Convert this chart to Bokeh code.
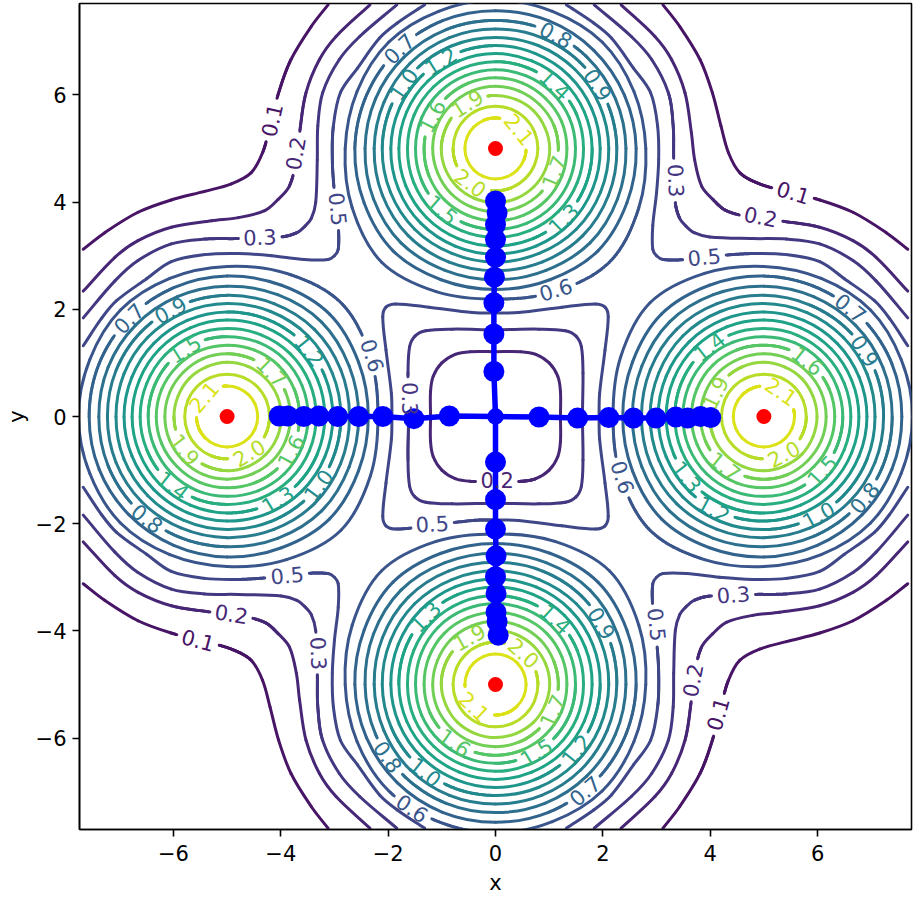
import math
from bokeh.core.properties import value
from bokeh.embed import file_html
from bokeh.models import ColumnDataSource, FixedTicker
from bokeh.palettes import Viridis256
from bokeh.plotting import figure
from bokeh.resources import INLINE

# Contour levels as printed on the chart, inner lobes last
LEVELS = ["0.1", "0.2", "0.3", "0.5", "0.6", "0.7", "0.8", "0.9", "1.0",
          "1.2", "1.3", "1.4", "1.5", "1.6", "1.7", "1.9", "2.0", "2.1"]

LOBES = {"top": (0.0, 5.0), "left": (-5.0, 0.0), "right": (5.0, 0.0), "bottom": (0.0, -5.0)}

# Ring radius, at 0, 22.5, ... 180 degrees from the direction to the plot centre
RING_060 = [2.81, 2.89, 3.00, 2.89, 2.80, 2.79, 2.81, 2.77, 2.77]
RING_070 = [2.63, 2.65, 2.70, 2.65, 2.62, 2.60, 2.59, 2.58, 2.57]
RING_080 = [2.45, 2.46, 2.49, 2.46, 2.43, 2.42, 2.41, 2.40, 2.39]
RING_090 = [2.28, 2.29, 2.30, 2.28, 2.26, 2.25, 2.25, 2.24, 2.23]
RING_100 = [2.12, 2.12, 2.13, 2.12, 2.11, 2.10, 2.09, 2.08, 2.07]
RING_120 = [1.97, 1.97, 1.97, 1.96, 1.95, 1.94, 1.93, 1.92, 1.92]
RING_130 = [1.82, 1.82, 1.82, 1.81, 1.80, 1.79, 1.78, 1.77, 1.77]
RING_140 = [1.66, 1.66, 1.66, 1.65, 1.64, 1.64, 1.63, 1.62, 1.62]
RING_150 = [1.51, 1.51, 1.51, 1.50, 1.49, 1.49, 1.48, 1.47, 1.47]
RING_160 = [1.35, 1.35, 1.35, 1.34, 1.33, 1.33, 1.32, 1.32, 1.32]
RING_170 = [1.18, 1.18, 1.18, 1.17, 1.17, 1.17, 1.16, 1.16, 1.16]
RING_190 = [1.01, 1.01, 1.01, 1.01, 1.01, 1.00, 1.00, 0.99, 0.99]
RING_200 = [0.79, 0.79, 0.79, 0.79, 0.79, 0.79, 0.79, 0.79, 0.79]
RING_210 = [0.57, 0.57, 0.57, 0.57, 0.57, 0.57, 0.57, 0.57, 0.57]
RINGS = {"0.6": RING_060, "0.7": RING_070, "0.8": RING_080, "0.9": RING_090, "1.0": RING_100,
         "1.2": RING_120, "1.3": RING_130, "1.4": RING_140, "1.5": RING_150, "1.6": RING_160,
         "1.7": RING_170, "1.9": RING_190, "2.0": RING_200, "2.1": RING_210}

# Outer contours of the top-left corner, from the left edge to the diagonal
CORNER_01 = [(-7.68, 3.12), (-7.28, 3.43), (-6.66, 3.81), (-6.04, 4.04), (-5.42, 4.20), (-4.92, 4.34), (-4.55, 4.55)]
CORNER_02 = [(-7.68, 2.34), (-7.09, 2.97), (-6.66, 3.28), (-6.04, 3.53), (-5.29, 3.65), (-4.79, 3.71), (-4.30, 3.84), (-4.05, 4.05)]
CORNER_03 = [(-7.68, 1.84), (-7.09, 2.53), (-6.66, 2.91), (-6.04, 3.22), (-5.42, 3.31), (-4.79, 3.32), (-3.99, 3.35), (-3.70, 3.43), (-3.55, 3.55)]
CORNER_05 = [(-7.68, 1.32), (-7.34, 1.83), (-7.06, 2.16), (-6.50, 2.57), (-6.04, 2.89), (-5.42, 3.02), (-4.79, 3.04), (-4.17, 3.00), (-3.56, 2.93), (-3.12, 2.93), (-3.00, 3.00)]
CORNERS = {"0.1": CORNER_01, "0.2": CORNER_02, "0.3": CORNER_03, "0.5": CORNER_05}

# Closed contours round the plot centre, from the top middle to the diagonal
CENTRE_02 = [(0.0, 1.21), (-0.47, 1.21), (-0.75, 1.16), (-1.00, 1.00)]
CENTRE_03 = [(0.0, 1.62), (-0.81, 1.63), (-1.30, 1.60), (-1.50, 1.50)]
CENTRE_05 = [(0.0, 1.93), (-0.43, 1.94), (-1.24, 2.04), (-1.86, 2.10), (-2.04, 2.04)]
CENTRES = {"0.2": CENTRE_02, "0.3": CENTRE_03, "0.5": CENTRE_05}

# Inline labels on the rings: text and polar angle round the lobe
TOP_TEXT = ["0.7", "0.8", "0.9", "1.0", "1.2", "1.4", "1.6", "1.9", "2.1", "2.0", "1.7", "1.5", "1.3"]
TOP_ANGLE = [134, 62, 32, 145, 122, 47, 153, 122, 39, 234, -22, 229, -46]
LEFT_TEXT = ["0.7", "0.9", "1.5", "1.2", "1.7", "2.1", "1.9", "2.0", "1.6", "1.4", "1.3", "1.0", "0.8"]
LEFT_ANGLE = [135, 118, 122, 38.6, 45, 140, 218, -59, -28.6, 232, -58.7, -37, 232]
RIGHT_TEXT = ["0.7", "0.9", "1.4", "1.6", "2.1", "1.9", "2.0", "1.7", "1.5", "1.3", "1.2", "1.0", "0.8"]
RIGHT_ANGLE = [51.4, 33, 128, 52, 55.6, 154, -62, 232, -43, 218, 241.6, -61, -39]
BOTTOM_TEXT = ["1.3", "1.4", "0.9", "1.9", "2.0", "2.1", "1.7", "1.6", "1.5", "1.2", "1.0", "0.8", "0.7"]
BOTTOM_ANGLE = [135.8, 47.6, 30, 119, 48, 226, -25, 235, -59, -39, 231.4, 214, -50]
RING_LABELS = {"top": (TOP_TEXT, TOP_ANGLE), "left": (LEFT_TEXT, LEFT_ANGLE),
               "right": (RIGHT_TEXT, RIGHT_ANGLE), "bottom": (BOTTOM_TEXT, BOTTOM_ANGLE)}

# Other inline labels: text, x, y, rotation
FREE_TEXT = ["0.6", "0.6", "0.6", "0.6", "0.3", "0.2", "0.5",
             "0.1", "0.2", "0.3", "0.5", "0.1", "0.2", "0.3", "0.5",
             "0.1", "0.2", "0.5", "0.3", "0.3", "0.5", "0.2", "0.1"]
FREE_X = [1.12, -2.29, 2.37, -1.55, -1.60, 0.03, -1.18,
          -4.17, -3.73, -4.39, -2.93, 5.55, 4.94, 3.37, 3.89,
          -5.54, -4.92, -3.88, -3.29, 4.43, 3.01, 3.67, 4.14]
FREE_Y = [2.37, 1.14, -1.13, -7.31, 0.33, -1.19, -2.00,
          5.53, 4.91, 3.35, 3.87, 4.18, 3.73, 4.40, 2.98,
          -4.17, -3.68, -2.96, -4.42, -3.32, -3.88, -4.92, -5.55]
FREE_ROT = [17, -72, -72, -34, -90, 0, 3,
            77, 80, 2, -84, -17, -11, -88, 5,
            -15, -9, 5, -88, 4, -84, 79, 74]

# Blue tracks, from the centre outwards
RIGHT_X = [0.0, 0.81, 1.53, 2.11, 2.57, 2.99, 3.36, 3.58, 3.82, 4.01]
RIGHT_Y = [0.0, -0.01, -0.03, -0.02, -0.03, -0.03, -0.01, -0.03, 0.0, -0.02]
LEFT_X = [0.0, -0.86, -1.52, -2.10, -2.55, -2.94, -3.29, -3.57, -3.87, -4.03]
LEFT_Y = [0.0, 0.01, -0.04, 0.0, 0.0, 0.0, 0.01, 0.0, 0.01, 0.01]
UP_X = [0.0, -0.03, -0.03, -0.03, -0.02, 0.0, 0.0, 0.0, 0.03, 0.0]
UP_Y = [0.0, 0.84, 1.54, 2.12, 2.60, 2.97, 3.30, 3.58, 3.80, 4.02]
DOWN_X = [0.0, 0.0, 0.0, 0.0, 0.01, 0.0, 0.01, 0.01, 0.03, 0.05]
DOWN_Y = [0.0, -0.85, -1.55, -2.10, -2.60, -2.99, -3.30, -3.65, -3.83, -4.08]
TARGET_X = [-5.0, 5.0, 0.0, 0.0]
TARGET_Y = [0.0, 0.0, 5.0, -5.0]

TICKS = [-6, -4, -2, 0, 2, 4, 6]
XLIM = (-7.75, 7.75)
YLIM = (-7.705, 7.705)


def level_color(level):
    return Viridis256[int(round(255 * (LEVELS.index(level) + 1) / 19))]


def ring_radius(level, theta_deg):
    t = abs((theta_deg + 180) % 360 - 180) / 22.5
    i = min(int(t), 7)
    row = RINGS[level]
    return row[i] + (row[i + 1] - row[i]) * (t - i)


def lobe_base(c):
    return math.degrees(math.atan2(-c[1], -c[0]))


def ring_path(level, c):
    base = lobe_base(c)
    pts = []
    for k in range(16):
        a = base + 22.5 * k
        r = RINGS[level][k if k <= 8 else 16 - k]
        pts.append((c[0] + r * math.cos(math.radians(a)), c[1] + r * math.sin(math.radians(a))))
    return pts


def mirror_diag(half):
    return [(-y, -x) for x, y in reversed(half[:-1])]


def centre_path(half):
    q = half + mirror_diag(half)
    pts = []
    for n in range(4):
        for x, y in q[:-1]:
            for _ in range(n):
                x, y = -y, x
            pts.append((x, y))
    return pts


def beziers(pts, closed):
    n = len(pts)
    segs = []
    def tangent(i):
        if closed:
            a, b = pts[(i - 1) % n], pts[(i + 1) % n]
        else:
            a, b = pts[max(i - 1, 0)], pts[min(i + 1, n - 1)]
        dx, dy = b[0] - a[0], b[1] - a[1]
        d = math.hypot(dx, dy)
        return dx / d, dy / d
    for i in range(n if closed else n - 1):
        j = (i + 1) % n
        p0, p1 = pts[i], pts[j]
        d = math.hypot(p1[0] - p0[0], p1[1] - p0[1]) / 3
        t0, t1 = tangent(i), tangent(j)
        segs.append((p0, (p0[0] + t0[0] * d, p0[1] + t0[1] * d), (p1[0] - t1[0] * d, p1[1] - t1[1] * d), p1))
    return segs


def lerp(a, b, t):
    return (a[0] + (b[0] - a[0]) * t, a[1] + (b[1] - a[1]) * t)


def split(seg, t):
    a, b, c, d = seg
    ab, bc, cd = lerp(a, b, t), lerp(b, c, t), lerp(c, d, t)
    abc, bcd = lerp(ab, bc, t), lerp(bc, cd, t)
    m = lerp(abc, bcd, t)
    return (a, ab, abc, m), (m, bcd, cd, d)


# Collect the labels in data space
label_rows = []
for lobe, (texts, angles) in RING_LABELS.items():
    c = LOBES[lobe]
    base = lobe_base(c)
    for text, phi in zip(texts, angles):
        r = ring_radius(text, phi - base)
        x = c[0] + r * math.cos(math.radians(phi))
        y = c[1] + r * math.sin(math.radians(phi))
        label_rows.append((text, x, y, (phi % 180) - 90))
for row in zip(FREE_TEXT, FREE_X, FREE_Y, FREE_ROT):
    label_rows.append(row)

GAP = 0.41
cols = {k: [] for k in ["x0", "y0", "x1", "y1", "cx0", "cy0", "cx1", "cy1", "color"]}


def emit(seg, color):
    cols["x0"].append(seg[0][0]); cols["y0"].append(seg[0][1])
    cols["cx0"].append(seg[1][0]); cols["cy0"].append(seg[1][1])
    cols["cx1"].append(seg[2][0]); cols["cy1"].append(seg[2][1])
    cols["x1"].append(seg[3][0]); cols["y1"].append(seg[3][1])
    cols["color"].append(color)


def draw(pts, closed, level):
    color = level_color(level)
    labs = [(r[1], r[2]) for r in label_rows if r[0] == level]
    for seg in beziers(pts, closed):
        near = False
        for lx, ly in labs:
            reach = GAP + math.hypot(seg[3][0] - seg[0][0], seg[3][1] - seg[0][1])
            if math.hypot(seg[0][0] - lx, seg[0][1] - ly) < reach:
                near = True
        if not near:
            emit(seg, color)
            continue
        n = 24
        rest = seg
        for k in range(n):
            piece, rest = split(rest, 1 / (n - k)) if k < n - 1 else (rest, None)
            mx = (piece[0][0] + piece[3][0]) / 2
            my = (piece[0][1] + piece[3][1]) / 2
            if all(math.hypot(mx - lx, my - ly) > GAP for lx, ly in labs):
                emit(piece, color)


for level in RINGS:
    for c in LOBES.values():
        draw(ring_path(level, c), True, level)
for level, half in CORNERS.items():
    full = half + mirror_diag(half)
    for sx, sy in [(1, 1), (-1, 1), (1, -1), (-1, -1)]:
        draw([(x * sx, y * sy) for x, y in full], False, level)
for level, half in CENTRES.items():
    draw(centre_path(half), True, level)

p = figure(width=914, height=899, x_range=XLIM, y_range=YLIM, output_backend="svg",
           toolbar_location=None, min_border_left=79, min_border_right=3, min_border_top=3,
           min_border_bottom=70, x_axis_label="x", y_axis_label="y")
p.grid.visible = False
p.outline_line_color = "black"
p.outline_line_width = 1.6
for ax in (p.xaxis[0], p.yaxis[0]):
    ax.ticker = FixedTicker(ticks=TICKS)
    ax.major_label_overrides = {t: str(t).replace("-", "\u2212") for t in TICKS}
    ax.minor_tick_line_color = None
    ax.major_tick_in = 0
    ax.major_tick_out = 7
    ax.major_tick_line_width = 1.6
    ax.axis_line_width = 1.6
    ax.major_label_text_font = "DejaVu Sans"
    ax.major_label_text_font_size = "21px"
    ax.major_label_text_color = "black"
    ax.axis_label_text_font = "DejaVu Sans"
    ax.axis_label_text_font_size = "21px"
    ax.axis_label_text_font_style = "normal"
    ax.axis_label_text_color = "black"
p.xaxis[0].major_label_standoff = 8
p.xaxis[0].axis_label_standoff = 7
p.yaxis[0].major_label_standoff = 6
p.yaxis[0].axis_label_standoff = 4

p.bezier("x0", "y0", "x1", "y1", "cx0", "cy0", "cx1", "cy1", source=ColumnDataSource(cols),
         line_color="color", line_width=3, line_cap="round")

for xs, ys in [(RIGHT_X, RIGHT_Y), (LEFT_X, LEFT_Y), (UP_X, UP_Y), (DOWN_X, DOWN_Y)]:
    p.line(xs, ys, line_color="#0000ff", line_width=5.5)
    p.scatter(xs[1:], ys[1:], size=21, fill_color="#0000ff", line_color=None)
p.scatter(RIGHT_X[:1], RIGHT_Y[:1], size=16.5, fill_color="#0000ff", line_color=None)
p.scatter(TARGET_X, TARGET_Y, size=15, fill_color="#ff0000", line_color=None)

p.text([r[1] for r in label_rows], [r[2] for r in label_rows], text=[r[0] for r in label_rows],
       angle=[r[3] for r in label_rows], angle_units="deg",
       text_color=[level_color(r[0]) for r in label_rows], text_font=value("DejaVu Sans"),
       text_font_size="21px", text_align="center", text_baseline="middle")

open("out.html", "w").write(file_html(p, INLINE))
